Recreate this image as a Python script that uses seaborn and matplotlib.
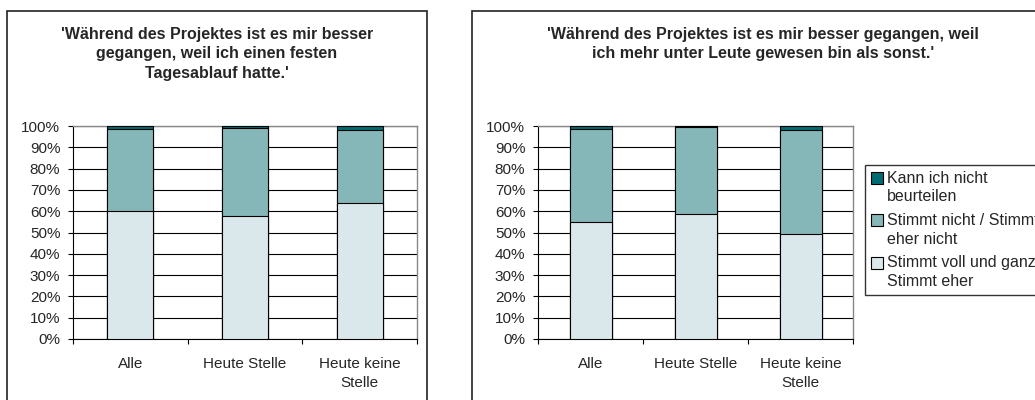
import numpy as np
import pandas as pd
import seaborn as sns
import matplotlib.pyplot as plt
from matplotlib.patches import Rectangle, Patch
from matplotlib.legend_handler import HandlerPatch
from matplotlib.ticker import FixedLocator, PercentFormatter

# ------------------ Data (percent) ------------------
groups = ["Alle", "Heute Stelle", "Heute keine\nStelle"]
series_names = ["Kann ich nicht\nbeurteilen",
                "Stimmt nicht / Stimmt\neher nicht",
                "Stimmt voll und ganz /\nStimmt eher"]

# chart 1: fester Tagesablauf
left_voll = [60.2, 57.6, 63.8]
left_nicht = [38.2, 41.3, 34.2]
left_kann = [1.6, 1.1, 2.0]

# chart 2: mehr unter Leute
right_voll = [54.8, 58.8, 49.1]
right_nicht = [43.9, 40.6, 49.0]
right_kann = [1.3, 0.6, 1.9]

title_left = "'Während des Projektes ist es mir besser\ngegangen, weil ich einen festen\nTagesablauf hatte.'"
title_right = "'Während des Projektes ist es mir besser gegangen, weil\nich mehr unter Leute gewesen bin als sonst.'"

col_kann = "#006a72"
col_nicht = "#86b7b8"
col_voll = "#dae8ec"

sns.set_style("white")
plt.rcParams["font.family"] = ["Liberation Sans", "DejaVu Sans"]

W, H = 1035, 400
fig = plt.figure(figsize=(W / 100, H / 100), dpi=100)


def fx(px):
    return px / W


def fy(py):
    return 1 - py / H


def stacked(ax, voll, nicht, kann, bar_w):
    df = pd.DataFrame({"group": groups, "voll": voll, "nicht": nicht, "kann": kann})
    df["c2"] = df["voll"] + df["nicht"]
    df["c3"] = df["c2"] + df["kann"]
    # draw cumulative layers back to front
    for col, color in [("c3", col_kann), ("c2", col_nicht), ("voll", col_voll)]:
        sns.barplot(data=df, x="group", y=col, color=color, width=bar_w,
                    edgecolor="black", linewidth=0.8, saturation=1, ax=ax, zorder=3)
    ax.set_xlim(-0.5, 2.5)
    ax.set_ylim(0, 100)
    ax.set_yticks(np.arange(0, 101, 10))
    ax.yaxis.set_major_formatter(PercentFormatter(decimals=0))
    ax.yaxis.grid(True, color="black", linewidth=0.8, zorder=0)
    ax.set_axisbelow(True)
    ax.xaxis.set_major_locator(FixedLocator([-0.5, 0.5, 1.5, 2.5]))
    ax.xaxis.set_minor_locator(FixedLocator([0, 1, 2]))
    ax.set_xticklabels([], minor=False)
    ax.set_xticklabels(groups, minor=True, fontsize=11, linespacing=1.45)
    ax.tick_params(axis="x", which="major", direction="out", length=3.6, width=0.8, color="black", bottom=True)
    ax.tick_params(axis="x", which="minor", length=0, pad=13)
    ax.tick_params(axis="y", direction="out", length=3.6, width=0.8, color="black", left=True,
                   labelsize=11, pad=5.5)
    ax.set_xlabel("")
    ax.set_ylabel("")
    for s in ["top", "right"]:
        ax.spines[s].set_color("#888888")
        ax.spines[s].set_linewidth(1)
    for s in ["left", "bottom"]:
        ax.spines[s].set_color("black")
        ax.spines[s].set_linewidth(0.8)


# legend squares sit next to the first line of each label
def top_square(legend, orig_handle, xdescent, ydescent, width, height, fontsize):
    return Rectangle((-xdescent, -ydescent + 0.62 * fontsize), width, height)


# panel frames
fig.patches.append(Rectangle((fx(7), -0.1), fx(420), fy(11) + 0.1, transform=fig.transFigure,
                             fill=False, edgecolor="#222222", linewidth=1.2))
fig.patches.append(Rectangle((fx(472), -0.1), fx(600), fy(11) + 0.1, transform=fig.transFigure,
                             fill=False, edgecolor="#222222", linewidth=1.2))

ax1 = fig.add_axes([fx(73), fy(339), fx(417 - 73), (339 - 126) / H])
stacked(ax1, left_voll, left_nicht, left_kann, 0.4)

ax2 = fig.add_axes([fx(538), fy(339), fx(853 - 538), (339 - 126) / H])
stacked(ax2, right_voll, right_nicht, right_kann, 0.4)

fig.text(fx(217), fy(27), title_left, ha="center", va="top", fontsize=11.5,
         fontweight="bold", linespacing=1.37)
fig.text(fx(763), fy(27), title_right, ha="center", va="top", fontsize=11.5,
         fontweight="bold", linespacing=1.37)

handles = [Patch(facecolor=c, edgecolor="black", linewidth=0.8) for c in [col_kann, col_nicht, col_voll]]
leg = fig.legend(handles, series_names, loc="upper left", bbox_to_anchor=(fx(865), fy(165)),
                 frameon=True, fancybox=False, edgecolor="black", fontsize=11.5,
                 handlelength=0.75, handleheight=0.75, handletextpad=0.25, borderpad=0.35,
                 labelspacing=0.55, borderaxespad=0,
                 handler_map={Patch: HandlerPatch(patch_func=top_square)})
for t in leg.get_texts():
    t.set_linespacing(1.3)

fig.savefig("out.png", dpi=100)
